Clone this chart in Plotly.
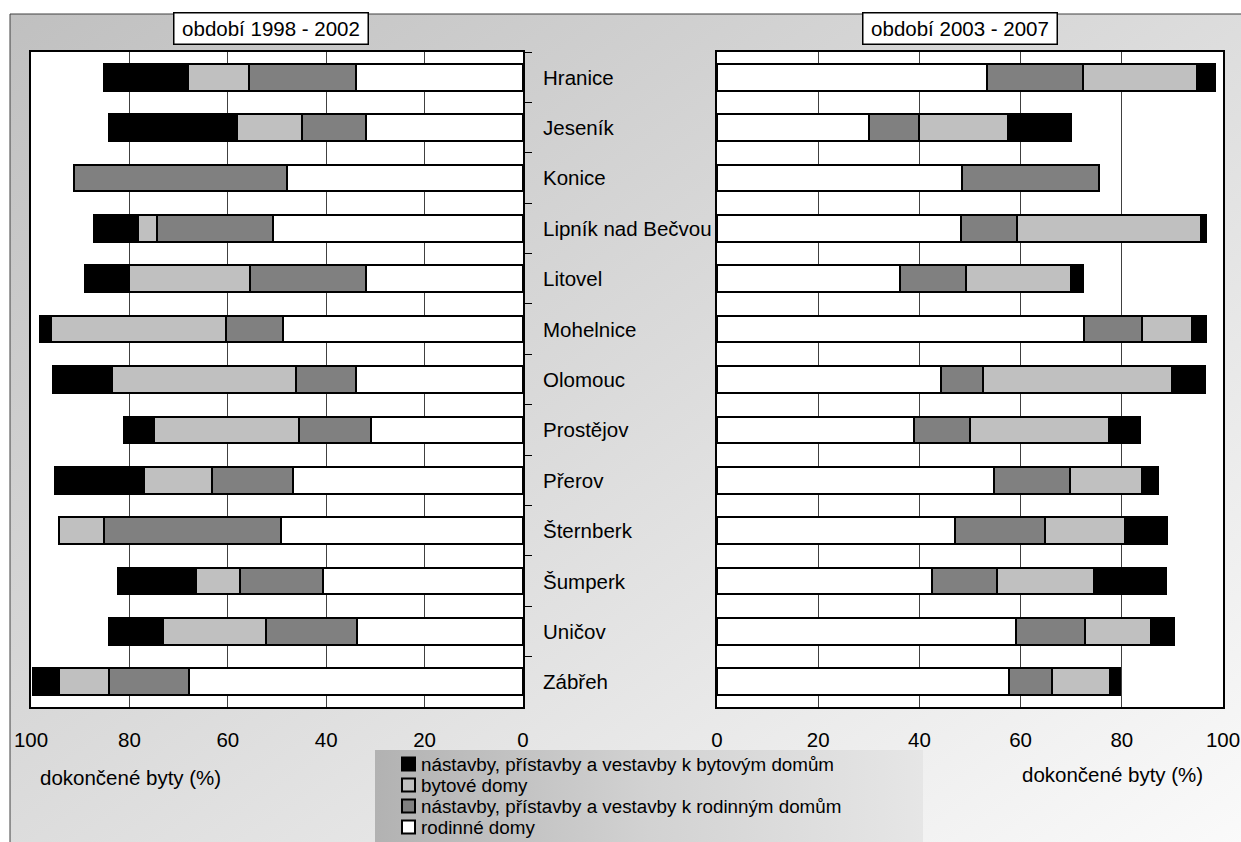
import base64
import plotly.graph_objects as go

# Towns (top to bottom)
categories = ["Hranice", "Jeseník", "Konice", "Lipník nad Bečvou", "Litovel", "Mohelnice",
              "Olomouc", "Prostějov", "Přerov", "Šternberk", "Šumperk", "Uničov", "Zábřeh"]

periods = ["období 1998 - 2002", "období 2003 - 2007"]

# Series in stacking order (from 0 outwards)
series_names = ["rodinné domy",
                "nástavby, přístavby a vestavby k rodinným domům",
                "bytové domy",
                "nástavby, přístavby a vestavby k bytovým domům"]
series_colors = ["#ffffff", "#808080", "#c0c0c0", "#000000"]

# Completed dwellings, share in % — 1998-2002
rodinne_9802 = [33.9, 31.9, 48.0, 50.8, 31.9, 48.8, 34.0, 30.8, 46.7, 49.1, 40.7, 33.7, 67.8]
nastavby_rd_9802 = [21.7, 13.0, 43.3, 23.6, 23.5, 11.6, 12.2, 14.8, 16.6, 36.0, 16.9, 18.6, 16.4]
bytove_9802 = [12.4, 13.2, 0.0, 3.8, 24.6, 35.6, 37.4, 29.3, 13.7, 9.3, 8.9, 20.9, 10.1]
nastavby_bd_9802 = [17.1, 26.0, 0.0, 9.0, 9.1, 2.1, 11.9, 6.3, 18.2, 0.0, 15.8, 11.0, 5.2]

# Completed dwellings, share in % — 2003-2007
rodinne_0307 = [53.4, 30.0, 48.5, 48.3, 36.2, 72.5, 44.2, 39.0, 54.7, 47.0, 42.5, 59.0, 57.7]
nastavby_rd_0307 = [19.0, 10.0, 26.9, 11.0, 13.0, 11.5, 8.4, 11.0, 15.1, 17.8, 12.8, 13.8, 8.6]
bytove_0307 = [22.4, 17.6, 0.0, 36.4, 20.8, 9.9, 37.4, 27.4, 14.2, 15.8, 19.3, 12.9, 11.3]
nastavby_bd_0307 = [3.6, 12.3, 0.0, 0.9, 2.4, 2.8, 6.4, 6.2, 3.1, 8.3, 14.1, 4.6, 2.0]

x_ticks = [0, 20, 40, 60, 80, 100]
axis_title = "dokončené byty (%)"

W, H = 1241, 842
FONT = "Liberation Sans, Arial, sans-serif"
FS = 20.5
LEGEND_FS = 18.8


def px(x):
    return x / W


def py(y):
    return 1 - y / H


def svg_uri(svg):
    return "data:image/svg+xml;base64," + base64.b64encode(svg.encode("utf-8")).decode("ascii")


left_series = [rodinne_9802, nastavby_rd_9802, bytove_9802, nastavby_bd_9802]
right_series = [rodinne_0307, nastavby_rd_0307, bytove_0307, nastavby_bd_0307]

fig = go.Figure()
for name, color, lv, rv in zip(series_names, series_colors, left_series, right_series):
    common = dict(orientation="h", y=categories, name=name, width=0.53, showlegend=False,
                  marker=dict(color=color, line=dict(color="#000000", width=2)))
    fig.add_trace(go.Bar(x=lv, xaxis="x", yaxis="y", **common))
    fig.add_trace(go.Bar(x=rv, xaxis="x2", yaxis="y2", **common))

x_common = dict(tickvals=x_ticks, showgrid=True, gridcolor="#404040", gridwidth=1,
                showline=True, mirror=True, linecolor="#000000", linewidth=1.5,
                ticks="", zeroline=False, tickfont=dict(size=FS, color="#000000"),
                ticklabelstandoff=14, automargin=False)
y_common = dict(type="category", categoryorder="array", categoryarray=categories,
                autorange="reversed", showticklabels=False, showgrid=False,
                showline=True, mirror=True, linecolor="#000000", linewidth=1.5,
                domain=[py(707), py(52)], automargin=False)

fig.update_layout(
    width=W, height=H,
    autosize=False,
    margin=dict(l=0, r=0, t=0, b=0, pad=0, autoexpand=False),
    paper_bgcolor="#ffffff",
    plot_bgcolor="rgba(0,0,0,0)",
    font=dict(family=FONT, size=FS, color="#000000"),
    barmode="stack",
    showlegend=False,
    xaxis=dict(domain=[px(31), px(523)], range=[100, 0], anchor="y", **x_common),
    xaxis2=dict(domain=[px(717), px(1223)], range=[0, 100], anchor="y2", **x_common),
    yaxis=dict(anchor="x", side="right", ticks="outside", tickson="boundaries",
               ticklen=7, tickcolor="#000000", tickwidth=1, **y_common),
    yaxis2=dict(anchor="x2", ticks="", **y_common),
)

# Chart area background: diagonal grey gradient
bg_svg = ('<svg xmlns="http://www.w3.org/2000/svg" width="1240" height="840" viewBox="0 0 1240 840" '
          'preserveAspectRatio="none"><defs><linearGradient id="g" x1="0" y1="0" x2="1" y2="1">'
          '<stop offset="0" stop-color="#c0c0c0"/><stop offset="0.45" stop-color="#dadada"/>'
          '<stop offset="1" stop-color="#fbfbfb"/></linearGradient></defs>'
          '<rect width="1240" height="840" fill="url(#g)"/></svg>')
# Legend box background: horizontal grey gradient
lg_svg = ('<svg xmlns="http://www.w3.org/2000/svg" width="550" height="100" viewBox="0 0 550 100" '
          'preserveAspectRatio="none"><defs><linearGradient id="l" x1="0" y1="0" x2="1" y2="0">'
          '<stop offset="0" stop-color="#b2b2b2"/><stop offset="0.5" stop-color="#d2d2d2"/>'
          '<stop offset="1" stop-color="#e6e6e6"/></linearGradient></defs>'
          '<rect width="550" height="100" fill="url(#l)"/></svg>')

fig.update_layout(images=[
    dict(source=svg_uri(bg_svg), xref="paper", yref="paper", x=px(10), y=py(14),
         sizex=px(W - 10) + 0.02, sizey=(H - 14) / H + 0.02, xanchor="left", yanchor="top",
         sizing="stretch", layer="below"),
    dict(source=svg_uri(lg_svg), xref="paper", yref="paper", x=px(375), y=py(750),
         sizex=px(923 - 375), sizey=(H - 750) / H + 0.02, xanchor="left", yanchor="top",
         sizing="stretch", layer="below"),
])

shapes = [
    # outer chart frame
    dict(type="rect", xref="paper", yref="paper", x0=px(10), y0=py(14), x1=1.05, y1=-0.05,
         line=dict(color="#404040", width=1), fillcolor="rgba(0,0,0,0)", layer="below"),
    # white plot areas
    dict(type="rect", xref="x domain", yref="y domain", x0=0, x1=1, y0=0, y1=1,
         fillcolor="#ffffff", line=dict(width=0), layer="below"),
    dict(type="rect", xref="x2 domain", yref="y2 domain", x0=0, x1=1, y0=0, y1=1,
         fillcolor="#ffffff", line=dict(width=0), layer="below"),
]

annotations = []
# period headers
for text, cx in zip(periods, [270.5, 960]):
    annotations.append(dict(text=text, xref="paper", yref="paper", x=px(cx), y=py(28.5),
                            xanchor="center", yanchor="middle",
                            showarrow=False, width=193, height=30, bgcolor="#ffffff",
                            bordercolor="#000000", borderwidth=1.5, borderpad=0,
                            font=dict(size=FS)))
# town names between the two panels
for cat in categories:
    annotations.append(dict(text=cat, xref="paper", yref="y", x=px(541), y=cat,
                            xanchor="left", yanchor="middle", showarrow=False,
                            font=dict(size=FS)))
# axis titles
for cx, cy in [(130, 777), (1112, 774)]:
    annotations.append(dict(text=axis_title, xref="paper", yref="paper", x=px(cx), y=py(cy),
                            xanchor="center", yanchor="middle",
                            showarrow=False, font=dict(size=FS)))

# legend (top row = outermost series)
legend_rows = [764, 785, 806, 827]
for row_y, idx in zip(legend_rows, [3, 2, 1, 0]):
    shapes.append(dict(type="rect", xref="paper", yref="paper",
                       x0=px(402), x1=px(415), y0=py(row_y + 6.5), y1=py(row_y - 6.5),
                       fillcolor=series_colors[idx], line=dict(color="#000000", width=2),
                       layer="above"))
    annotations.append(dict(text=series_names[idx], xref="paper", yref="paper",
                            x=px(419), y=py(row_y), xanchor="left", yanchor="middle",
                            showarrow=False, font=dict(size=LEGEND_FS)))

fig.update_layout(shapes=shapes, annotations=annotations)

fig.write_html("out.html")
